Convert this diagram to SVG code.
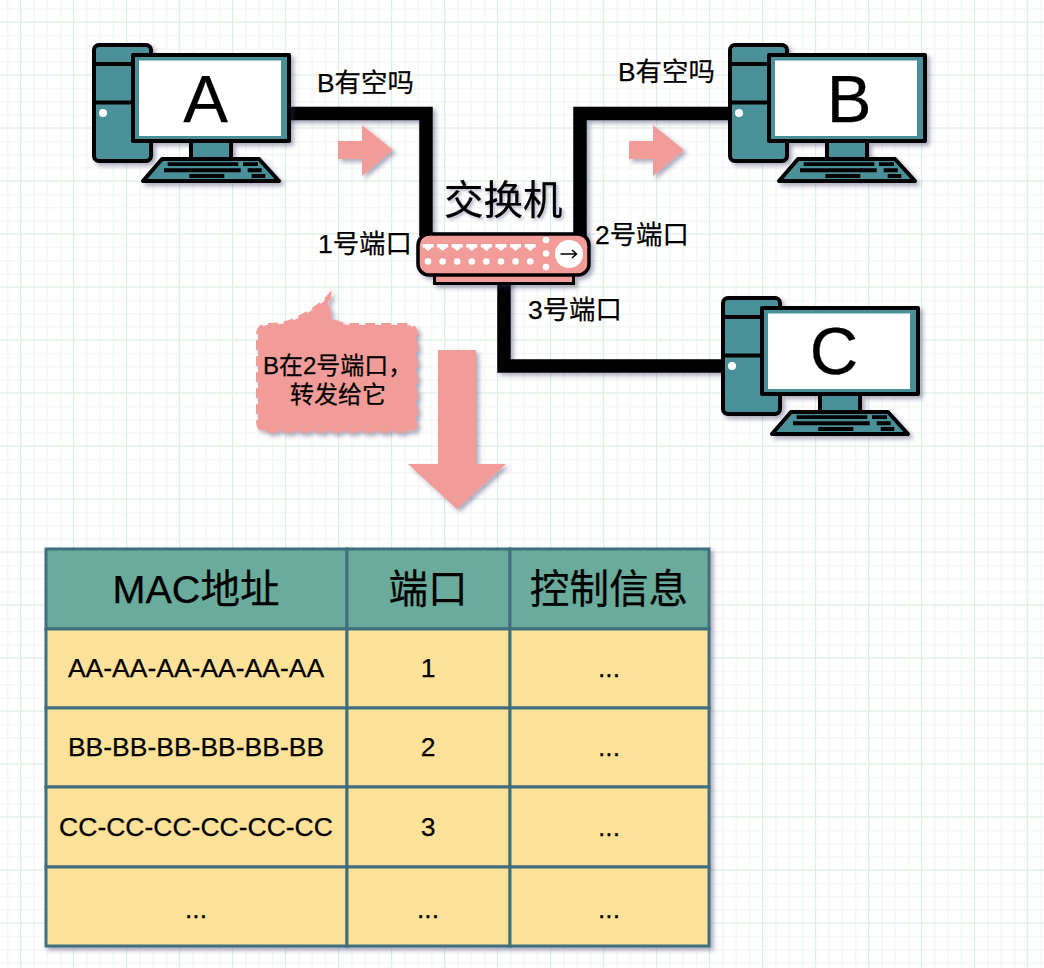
<svg xmlns="http://www.w3.org/2000/svg" xmlns:xlink="http://www.w3.org/1999/xlink" width="1044" height="968" viewBox="0 0 1044 968">
<style>
text{font-family:"Liberation Sans","Noto Sans CJK SC",sans-serif;fill:#000;stroke:#000;stroke-width:.25}
.lb{font-size:26.400px}
.cb{font-size:24px}
.bg{font-size:67px;text-anchor:middle}
.th{font-size:39.600px;text-anchor:middle}
.td{font-size:26.500px;text-anchor:middle}
.teal{fill:#4a9099;stroke:#000;stroke-width:4;stroke-linejoin:round}
.wire{fill:none;stroke:#000;stroke-width:13.500;stroke-linejoin:miter}
.pink{fill:#f19c99}
.cell{fill:#fee299;stroke:#3f6f7f;stroke-width:3}
.head{fill:#6aab9c;stroke:#3f6f7f;stroke-width:3}
</style>
<defs>
<pattern id="g1" width="13.250" height="13.250" patternUnits="userSpaceOnUse" x="20" y="21.500"><path d="M0 0H13.250M0 0V13.250" fill="none" stroke="#f5f7f3" stroke-width="3"/></pattern>
<pattern id="g2" width="53" height="53" patternUnits="userSpaceOnUse" x="20" y="21.500"><path d="M0 0H53M0 0V53" fill="none" stroke="#deeee2" stroke-width="2"/></pattern>
<filter id="sh" x="-20%" y="-20%" width="150%" height="150%"><feDropShadow dx="3" dy="3" stdDeviation="2" flood-color="#303060" flood-opacity="0.4"/></filter>
<filter id="ts" x="-10%" y="-10%" width="125%" height="130%"><feDropShadow dx="2" dy="2" stdDeviation="1.500" flood-color="#303060" flood-opacity="0.35"/></filter>
<g id="pc">
<rect class="teal" x="94" y="45" width="57" height="116" rx="5"/>
<path d="M94 64H151M94 102.500H151" stroke="#000" stroke-width="4" fill="none"/>
<circle cx="103" cy="113" r="4" fill="#fff"/>
<rect class="teal" x="191" y="141" width="40" height="19"/>
<rect class="teal" x="133" y="55" width="156" height="86"/>
<rect x="139" y="60.500" width="142" height="75.500" fill="#fff"/>
<polygon class="teal" points="162,159 259,159 279,181 143,181"/>
<path d="M167.700 162.300H238.300V166H167.700ZM243 162.300H258V166H243ZM164 168.300H240.700V172.300H164ZM247.700 168.300H261.700V172.300H247.700ZM189.300 174H224.300V178H189.300ZM251.700 174H265.300V178H251.700Z" fill="#000"/>
</g>
<polygon id="ar" class="pink" points="338,141 362,141 362,125 393,150 362,176 362,159 338,159"/>
</defs>
<rect width="1044" height="968" fill="#fff"/>
<rect width="1044" height="968" fill="url(#g1)"/>
<rect width="1044" height="968" fill="url(#g2)"/>
<g id="connectors" filter="url(#sh)">
<path class="wire" d="M285 113.500H426V236"/>
<path class="wire" d="M580 236V113.500H735"/>
<path class="wire" d="M504 280V366H728"/>
</g>
<g id="pc-a"><use href="#pc" filter="url(#sh)"/><text class="bg" x="205.500" y="122">A</text></g>
<g id="pc-b"><use href="#pc" x="636" filter="url(#sh)"/><text class="bg" x="849" y="122">B</text></g>
<g id="pc-c"><use href="#pc" x="629" y="253" filter="url(#sh)"/><text class="bg" x="834" y="374">C</text></g>
<g id="flow-arrow-1"><use href="#ar" filter="url(#sh)"/></g>
<g id="flow-arrow-2"><use href="#ar" x="291" filter="url(#sh)"/></g>
<g id="switch">
<g filter="url(#sh)">
<rect x="434.500" y="270" width="139" height="13.500" fill="#f19c99" stroke="#000" stroke-width="3"/>
<rect x="418" y="234" width="171" height="41" rx="11" fill="#f19c99" stroke="#000" stroke-width="3.500"/>
</g>
<g fill="#fff">
<path id="port" d="M422.500 244h11v3.500h-2.500v1.500h-1.500v1.500h-3v-1.500h-1.500v-1.500h-2.500z"/>
<use href="#port" x="14.600"/><use href="#port" x="29.200"/><use href="#port" x="43.800"/><use href="#port" x="58.400"/><use href="#port" x="73"/><use href="#port" x="87.600"/><use href="#port" x="102.200"/>
<circle cx="428" cy="261.500" r="3.300"/><circle cx="442.600" cy="261.500" r="3.300"/><circle cx="457.200" cy="261.500" r="3.300"/><circle cx="471.800" cy="261.500" r="3.300"/><circle cx="486.400" cy="261.500" r="3.300"/><circle cx="501" cy="261.500" r="3.300"/><circle cx="515.600" cy="261.500" r="3.300"/><circle cx="530.200" cy="261.500" r="3.300"/>
<circle cx="546" cy="240" r="3.300"/><circle cx="546" cy="253.500" r="3.300"/><circle cx="546" cy="267" r="3.300"/>
<circle cx="569" cy="254" r="14"/>
</g>
<path d="M560.500 254H576.500M572 250L576.500 254L572 258" fill="none" stroke="#000" stroke-width="1.500"/>
<text x="444" y="214" font-size="39.500" filter="url(#ts)">交换机</text>
</g>
<g id="labels">
<text class="lb" x="317" y="92">B有空吗</text>
<text class="lb" x="618" y="81">B有空吗</text>
<text class="lb" x="318" y="253">1号端口</text>
<text class="lb" x="595" y="244">2号端口</text>
<text class="lb" x="528" y="319">3号端口</text>
</g>
<g id="callout">
<path filter="url(#sh)" d="M268 325C280 325 290 323 300 317C312 311 322 304 329 296C328 304 327 312 331 318C335 324 345 325 352 325L406 325Q416 325 416 335L416 421Q416 431 406 431L268 431Q258 431 258 421L258 335Q258 325 268 325Z" fill="#f19c99" stroke="#f19c99" stroke-width="4" stroke-dasharray="10 6"/>
<text class="cb" x="263" y="374">B在2号端口，</text>
<text class="cb" x="290" y="403">转发给它</text>
</g>
<g id="big-arrow"><polygon class="pink" filter="url(#sh)" points="438,350 476,350 476,464 506,464 457,509 408,464 438,464"/></g>
<g id="mac-table">
<g filter="url(#sh)">
<rect class="head" x="46" y="549" width="301" height="80"/><rect class="head" x="347" y="549" width="163" height="80"/><rect class="head" x="510" y="549" width="199" height="80"/>
<rect class="cell" x="46" y="629" width="301" height="79"/><rect class="cell" x="347" y="629" width="163" height="79"/><rect class="cell" x="510" y="629" width="199" height="79"/>
<rect class="cell" x="46" y="708" width="301" height="79"/><rect class="cell" x="347" y="708" width="163" height="79"/><rect class="cell" x="510" y="708" width="199" height="79"/>
<rect class="cell" x="46" y="787" width="301" height="80"/><rect class="cell" x="347" y="787" width="163" height="80"/><rect class="cell" x="510" y="787" width="199" height="80"/>
<rect class="cell" x="46" y="867" width="301" height="79"/><rect class="cell" x="347" y="867" width="163" height="79"/><rect class="cell" x="510" y="867" width="199" height="79"/>
</g>
<text class="th" x="196" y="603">MAC地址</text><text class="th" x="428" y="603">端口</text><text class="th" x="609" y="603">控制信息</text>
<text class="td" x="196" y="677">AA-AA-AA-AA-AA-AA</text><text class="td" x="428" y="677">1</text><text class="td" x="609" y="677">...</text>
<text class="td" x="196" y="756">BB-BB-BB-BB-BB-BB</text><text class="td" x="428" y="756">2</text><text class="td" x="609" y="756">...</text>
<text class="td" x="196" y="836">CC-CC-CC-CC-CC-CC</text><text class="td" x="428" y="836">3</text><text class="td" x="609" y="836">...</text>
<text class="td" x="196" y="918">...</text><text class="td" x="428" y="918">...</text><text class="td" x="609" y="918">...</text>
</g>
</svg>
